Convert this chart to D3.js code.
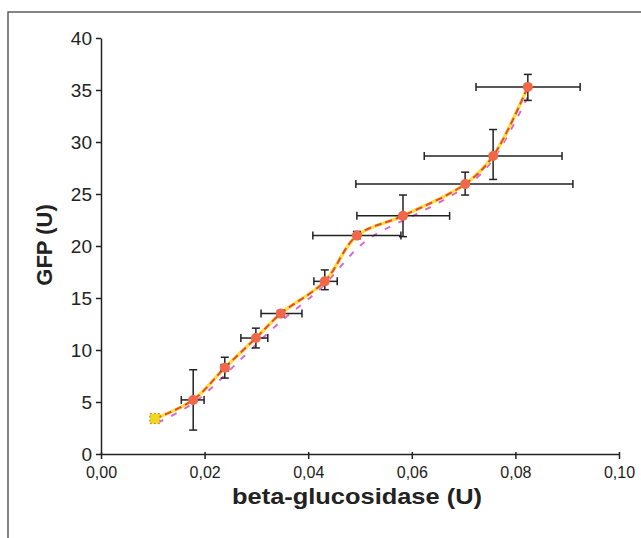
<!DOCTYPE html>
<html><head><meta charset="utf-8">
<script src="https://cdn.jsdelivr.net/npm/d3@7"></script>
<style>body{margin:0;background:#fff;}svg{display:block;}</style>
</head><body>
<svg id="c" width="641" height="538"></svg>
<script>
const xVals = [0.0104, 0.0178, 0.0239, 0.0299, 0.0347, 0.0432, 0.0494, 0.0583, 0.0703, 0.0757, 0.0824];
const yVals = [3.4, 5.2, 8.3, 11.15, 13.5, 16.6, 21.0, 22.9, 25.95, 28.65, 35.3];
const xErrLo = [0.0104, 0.0155, 0.0232, 0.0270, 0.0309, 0.0411, 0.0409, 0.0494, 0.0492, 0.0624, 0.0724];
const xErrHi = [0.0104, 0.0199, 0.0246, 0.0322, 0.0388, 0.0456, 0.0579, 0.0673, 0.0911, 0.0890, 0.0925];
const yErrLo = [3.4, 2.3, 7.3, 10.2, 13.2, 15.8, 20.7, 20.9, 24.9, 26.4, 34.0];
const yErrHi = [3.4, 8.1, 9.3, 12.1, 13.8, 17.7, 21.4, 24.9, 27.1, 31.2, 36.5];
const xTicks = [0, 0.02, 0.04, 0.06, 0.08, 0.10];
const yTicks = [0, 5, 10, 15, 20, 25, 30, 35, 40];

const svg = d3.select("#c");
svg.append("rect").attr("x",8).attr("y",12).attr("width",640).attr("height",540)
  .attr("fill","none").attr("stroke","#444").attr("stroke-width",1.3);

const x = d3.scaleLinear().domain([0,0.10]).range([101,619]);
const y = d3.scaleLinear().domain([0,40]).range([454,38]);
const font = "Arial, 'Liberation Sans', sans-serif";

const xa = svg.append("g").attr("transform","translate(0,454)")
  .call(d3.axisBottom(x).tickValues(xTicks).tickSize(5).tickSizeOuter(0)
    .tickFormat(d=>d3.format(".2f")(d).replace(".",",")));
xa.attr("font-size",null).attr("font-family",null);
xa.selectAll("text").style("font-family",font).style("font-size","16px").attr("fill","#222").attr("y",10).attr("dy","0.9em");
xa.selectAll("line,path").attr("stroke","#222").attr("stroke-width",1.5);
xa.selectAll(".tick line").attr("y1",-2);

const ya = svg.append("g").attr("transform","translate(101,0)")
  .call(d3.axisLeft(y).tickValues(yTicks).tickSize(5).tickSizeOuter(0));
ya.attr("font-size",null).attr("font-family",null);
ya.selectAll("text").style("font-family",font).style("font-size","19px").attr("fill","#222").attr("x",-9);
ya.selectAll("line,path").attr("stroke","#222").attr("stroke-width",1.5);

svg.append("text").attr("x",357).attr("y",504).attr("text-anchor","middle")
  .style("font-family",font).style("font-weight","bold").style("font-size","22px").attr("fill","#222")
  .attr("textLength",250).attr("lengthAdjust","spacingAndGlyphs")
  .text("beta-glucosidase (U)");
svg.append("text").attr("transform","translate(52,245) rotate(-90)").attr("text-anchor","middle")
  .style("font-family",font).style("font-weight","bold").style("font-size","22px").attr("fill","#222")
  .text("GFP (U)");

const pts = xVals.map((v,i)=>[x(v), y(yVals[i])]);
// magenta offset dashed curve
const pts2 = pts.map(p=>[p[0]+3, p[1]+4]);
svg.append("path").attr("d", d3.line().curve(d3.curveBasis)(pts2))
  .attr("fill","none").attr("stroke","#d040c8").attr("stroke-width",2).attr("stroke-dasharray","6,9").attr("opacity",0.8);
svg.append("path").attr("d", d3.line().curve(d3.curveCatmullRom)(pts))
  .attr("fill","none").attr("stroke","#f8e040").attr("stroke-width",3.5);
svg.append("path").attr("d", d3.line().curve(d3.curveCatmullRom)(pts))
  .attr("fill","none").attr("stroke","#e84838").attr("stroke-width",2).attr("stroke-dasharray","7,4");

// error bars
const eb = svg.append("g").attr("stroke","#222").attr("stroke-width",1.5);
xVals.forEach((v,i)=>{
  if (xErrHi[i]>xErrLo[i]) {
    eb.append("line").attr("x1",x(xErrLo[i])).attr("x2",x(xErrHi[i])).attr("y1",y(yVals[i])).attr("y2",y(yVals[i]));
    [xErrLo[i],xErrHi[i]].forEach(e=>eb.append("line").attr("x1",x(e)).attr("x2",x(e)).attr("y1",y(yVals[i])-4).attr("y2",y(yVals[i])+4));
  }
  if (yErrHi[i]>yErrLo[i]) {
    eb.append("line").attr("x1",x(v)).attr("x2",x(v)).attr("y1",y(yErrLo[i])).attr("y2",y(yErrHi[i]));
    [yErrLo[i],yErrHi[i]].forEach(e=>eb.append("line").attr("x1",x(v)-4).attr("x2",x(v)+4).attr("y1",y(e)).attr("y2",y(e)));
  }
});

svg.append("g").selectAll("circle").data(pts.slice(1)).join("circle")
  .attr("cx",d=>d[0]).attr("cy",d=>d[1]).attr("r",5).attr("fill","#f06848");
svg.append("rect").attr("x",pts[0][0]-5).attr("y",pts[0][1]-5).attr("width",10).attr("height",10)
  .attr("fill","#f0d820").attr("stroke","#c08040").attr("stroke-width",1).attr("stroke-dasharray","2,2");
</script>
</body></html>
